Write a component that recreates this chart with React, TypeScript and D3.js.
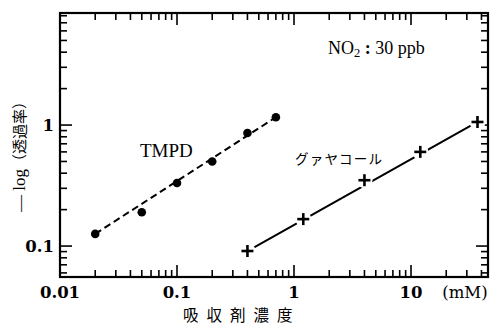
import React from "react";
import * as d3 from "d3";

const tmpdConc = [0.02, 0.05, 0.1, 0.2, 0.4, 0.7];
const tmpdVal = [0.126, 0.19, 0.332, 0.5, 0.86, 1.16];
const guaConc = [0.4, 1.2, 4, 12, 37];
const guaVal = [0.091, 0.167, 0.35, 0.6, 1.06];
const xTickValues = [0.01, 0.1, 1, 10];
const xTickLabels = ["0.01", "0.1", "1", "10"];
const yTickValues = [0.1, 1];
const yTickLabels = ["0.1", "1"];

const W = 493;
const H = 327;
const L = 60, R = 488, T = 13, B = 277;

export default function App() {
  const x = d3.scaleLog().domain([0.01, 45.5]).range([L, R]);
  const y = d3.scaleLog().domain([0.0555, 8.43]).range([B, T]);

  const xMinor: number[] = [];
  for (let e = -2; e <= 1; e++) for (let m = 1; m <= 9; m++) {
    const v = m * Math.pow(10, e);
    if (v > 0.01 * 1.0001 && v < 45.5) xMinor.push(v);
  }
  const yMinor: number[] = [];
  for (let e = -2; e <= 0; e++) for (let m = 1; m <= 9; m++) {
    const v = m * Math.pow(10, e);
    if (v > 0.0555 && v < 8.43) yMinor.push(v);
  }
  const isMajor = (v: number) => Math.abs(Math.log10(v) - Math.round(Math.log10(v))) < 1e-6;
  const major = 12, minor = 7;

  const tmpdPts = tmpdConc.map((c, i) => [x(c), y(tmpdVal[i])] as [number, number]);
  const guaPts = guaConc.map((c, i) => [x(c), y(guaVal[i])] as [number, number]);
  const line = d3.line();

  const serif = "'Liberation Serif', 'DejaVu Serif', serif";
  const tickFont = "'DejaVu Serif', serif";
  const jp = "'Noto Sans CJK JP', sans-serif";

  return (
    <svg width={W} height={H} style={{ position: "absolute", left: 0, top: 0, background: "#fff" }}>
      <rect x={0} y={0} width={W} height={H} fill="#fff" />
      {/* ticks */}
      <g stroke="#000" strokeWidth={1.6}>
        {xMinor.map((v, i) => {
          const len = isMajor(v) ? major : minor;
          const px = x(v);
          return (
            <g key={"xt" + i}>
              <line x1={px} x2={px} y1={B} y2={B - len} />
              <line x1={px} x2={px} y1={T} y2={T + len} />
            </g>
          );
        })}
        {yMinor.map((v, i) => {
          const len = isMajor(v) ? major : minor;
          const py = y(v);
          return (
            <g key={"yt" + i}>
              <line x1={L} x2={L + len} y1={py} y2={py} />
              <line x1={R} x2={R - len} y1={py} y2={py} />
            </g>
          );
        })}
      </g>
      <rect x={L} y={T} width={R - L} height={B - T} fill="none" stroke="#000" strokeWidth={2.2} />

      {/* tick labels */}
      {xTickValues.map((v, i) => (
        <text key={"xl" + i} x={x(v)} y={298} textAnchor="middle" fontFamily={tickFont} fontSize={16.5} fontWeight={600} fill="#000">
          {xTickLabels[i]}
        </text>
      ))}
      <text x={465} y={298} textAnchor="middle" fontFamily={tickFont} fontSize={16.5} fill="#000">(mM)</text>
      {yTickValues.map((v, i) => (
        <text key={"yl" + i} x={54} y={y(v) + 6} textAnchor="end" fontFamily={tickFont} fontSize={16.5} fontWeight={600} fill="#000">
          {yTickLabels[i]}
        </text>
      ))}

      {/* TMPD series */}
      <path d={line([tmpdPts[0], tmpdPts[tmpdPts.length - 1]]) || ""} fill="none" stroke="#000" strokeWidth={2} strokeDasharray="7,4" />
      {tmpdPts.map((p, i) => (
        <circle key={"tc" + i} cx={p[0]} cy={p[1]} r={4.3} fill="#000" />
      ))}

      {/* Guaiacol series */}
      <path d={line([guaPts[0], guaPts[guaPts.length - 1]]) || ""} fill="none" stroke="#000" strokeWidth={2} />
      {guaPts.map((p, i) => (
        <g key={"gp" + i}>
          <circle cx={p[0]} cy={p[1]} r={8} fill="#fff" />
          <line x1={p[0] - 6} x2={p[0] + 6} y1={p[1]} y2={p[1]} stroke="#000" strokeWidth={2.6} />
          <line x1={p[0]} x2={p[0]} y1={p[1] - 6} y2={p[1] + 6} stroke="#000" strokeWidth={2.6} />
        </g>
      ))}

      {/* annotations */}
      <text x={140} y={157} fontFamily={serif} fontSize={19} fill="#000">TMPD</text>
      <text x={295} y={164} fontFamily={jp} fontSize={13.5} letterSpacing={1.2} fill="#000">グァヤコール</text>
      <text x={328} y={54} fontFamily={serif} fontSize={18} fill="#000">
        NO<tspan fontSize={12.5} dy={3}>2</tspan><tspan dy={-3} fontWeight={700}> : </tspan><tspan>30 ppb</tspan>
      </text>

      {/* axis titles */}
      <text x={183} y={321} fontFamily={jp} fontSize={15.5} letterSpacing={8} fill="#000">吸収剤濃度</text>
      <text transform="translate(25,153) rotate(-90)" textAnchor="middle" fill="#000">
        <tspan fontFamily={serif} fontSize={17}>— </tspan>
        <tspan fontFamily={serif} fontSize={17}>log</tspan>
        <tspan fontFamily={jp} fontSize={15}>（透過率）</tspan>
      </text>
    </svg>
  );
}
